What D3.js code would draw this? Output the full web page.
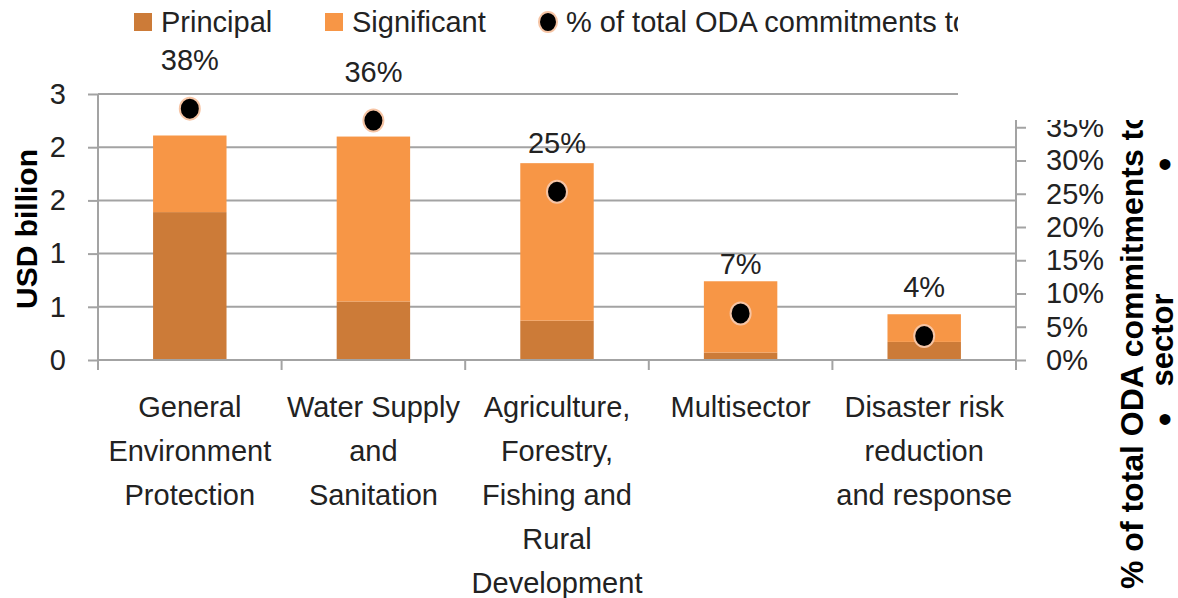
<!DOCTYPE html>
<html>
<head>
<meta charset="utf-8">
<script src="https://cdn.jsdelivr.net/npm/d3@7"></script>
<style>
  html, body { margin: 0; padding: 0; background: #fff; }
  svg { display: block; font-family: "Liberation Sans", Arial, sans-serif; }
</style>
</head>
<body>
<div id="chart"></div>
<script>
// categories, one entry per line of the wrapped axis label
const categories = [
  ['General', 'Environment', 'Protection'],
  ['Water Supply', 'and', 'Sanitation'],
  ['Agriculture,', 'Forestry,', 'Fishing and', 'Rural', 'Development'],
  ['Multisector'],
  ['Disaster risk', 'reduction', 'and response'],
];
const seriesNames = ['Principal', 'Significant'];
const principal = [1.39, 0.55, 0.37, 0.07, 0.17];
const significant = [0.72, 1.55, 1.48, 0.67, 0.26];
const odaShare = [0.378, 0.36, 0.253, 0.07, 0.036];
const shareName = '% of total ODA commitments to sector';
const leftTicks = [0, 0.5, 1, 1.5, 2, 2.5];
const leftTickLabels = ['0', '1', '1', '2', '2', '3'];
const rightTicks = [0, 0.05, 0.1, 0.15, 0.2, 0.25, 0.3, 0.35];
const leftTitle = 'USD billion';
const rightTitleLines = ['% of total ODA commitments to', 'sector'];

const W = 1178, H = 598;
const margin = { top: 94, right: 162, bottom: 238, left: 98 };
const colors = { Principal: '#cc7b38', Significant: '#f79646' };
const gridColor = '#a3a3a3';
const fontSize = 29;

const svg = d3.select('#chart').append('svg').attr('width', W).attr('height', H);

const x = d3.scaleBand()
  .domain(d3.range(categories.length))
  .range([margin.left, W - margin.right])
  .paddingInner(0.6)
  .paddingOuter(0.3);
const y = d3.scaleLinear().domain([0, 2.5]).range([H - margin.bottom, margin.top]);
const y2 = d3.scaleLinear().domain([0, 0.4]).range([H - margin.bottom, margin.top]);
const x0 = margin.left, x1 = W - margin.right, yBase = H - margin.bottom;

// gridlines
svg.append('g')
  .selectAll('line')
  .data(leftTicks.slice(1))
  .join('line')
  .attr('x1', x0).attr('x2', x1)
  .attr('y1', d => y(d)).attr('y2', d => y(d))
  .attr('stroke', gridColor).attr('stroke-width', 2);

// stacked bars
const rows = categories.map((c, i) => ({ i, Principal: principal[i], Significant: significant[i] }));
const stacked = d3.stack().keys(seriesNames)(rows);
svg.append('g')
  .selectAll('g')
  .data(stacked)
  .join('g')
  .attr('fill', d => colors[d.key])
  .selectAll('rect')
  .data(d => d)
  .join('rect')
  .attr('x', d => x(d.data.i))
  .attr('width', x.bandwidth())
  .attr('y', d => y(d[1]))
  .attr('height', d => y(d[0]) - y(d[1]));

// left axis
const leftAxis = svg.append('g')
  .attr('transform', `translate(${x0},0)`)
  .call(d3.axisLeft(y).tickValues(leftTicks).tickSize(10).tickPadding(22)
    .tickFormat((d, i) => leftTickLabels[i]));
leftAxis.select('.domain').attr('d', `M0,${y(2.5)}V${yBase + 10}`);

// right axis
const rightAxis = svg.append('g')
  .attr('transform', `translate(${x1},0)`)
  .call(d3.axisRight(y2).tickValues(rightTicks).tickSize(10).tickPadding(20)
    .tickFormat(d3.format('.0%')));
rightAxis.select('.domain').attr('d', `M0,${y2(0.4)}V${yBase + 10}`);

// bottom axis, ticks on the category boundaries
const step = x.step();
const bounds = d3.range(categories.length + 1).map(i => x0 + i * step);
const bottom = svg.append('g');
bottom.append('line')
  .attr('x1', x0).attr('x2', x1).attr('y1', yBase).attr('y2', yBase);
bottom.selectAll('line.tick')
  .data(bounds)
  .join('line')
  .attr('class', 'tick')
  .attr('x1', d => d).attr('x2', d => d)
  .attr('y1', yBase).attr('y2', yBase + 10);
bottom.selectAll('line').attr('stroke', gridColor).attr('stroke-width', 2);

[leftAxis, rightAxis].forEach(a => {
  a.selectAll('line, path').attr('stroke', gridColor).attr('stroke-width', 2);
  a.selectAll('text').attr('font-size', fontSize).attr('fill', '#222')
    .attr('font-family', '"Liberation Sans", Arial, sans-serif');
});

// category labels
svg.append('g')
  .selectAll('text')
  .data(categories)
  .join('text')
  .attr('text-anchor', 'middle')
  .attr('font-size', fontSize)
  .attr('fill', '#222')
  .attr('transform', (d, i) => `translate(${x(i) + x.bandwidth() / 2},${yBase + 57})`)
  .selectAll('tspan')
  .data(d => d)
  .join('tspan')
  .attr('x', 0)
  .attr('y', (d, j) => j * 44)
  .text(d => d);

// share markers
svg.append('g')
  .selectAll('ellipse')
  .data(odaShare)
  .join('ellipse')
  .attr('cx', (d, i) => x(i) + x.bandwidth() / 2)
  .attr('cy', d => y2(d))
  .attr('rx', 10).attr('ry', 11)
  .attr('fill', '#000')
  .attr('stroke', '#f6c4a4').attr('stroke-width', 2);

svg.append('g')
  .selectAll('text')
  .data(odaShare)
  .join('text')
  .attr('x', (d, i) => x(i) + x.bandwidth() / 2)
  .attr('y', d => y2(d) - 39)
  .attr('text-anchor', 'middle')
  .attr('font-size', fontSize)
  .attr('fill', '#222')
  .text(d => d3.format('.0%')(d));

// axis titles
svg.append('text')
  .attr('transform', `translate(37,${(margin.top + yBase) / 2 + 2}) rotate(-90)`)
  .attr('text-anchor', 'middle')
  .attr('font-size', 30).attr('font-weight', 'bold')
  .text(leftTitle);

svg.append('text')
  .attr('transform', `translate(1143,589) rotate(-90)`)
  .attr('font-size', 32).attr('font-weight', 'bold')
  .text(rightTitleLines[0]);
svg.append('text')
  .attr('transform', `translate(1173,340) rotate(-90)`)
  .attr('text-anchor', 'middle')
  .attr('font-size', 31).attr('font-weight', 'bold')
  .text(rightTitleLines[1]);

// stray bullets beside the title
svg.append('g')
  .selectAll('text')
  .data([165, 420])
  .join('text')
  .attr('x', 1165).attr('y', d => d + 13)
  .attr('text-anchor', 'middle')
  .attr('font-size', 40)
  .text('•');

// legend
const legend = svg.append('g').attr('font-size', fontSize).attr('fill', '#222');
const legendX = [134, 325];
seriesNames.forEach((s, i) => {
  legend.append('rect')
    .attr('x', legendX[i]).attr('y', 13).attr('width', 18).attr('height', 18)
    .attr('fill', colors[s]);
  legend.append('text')
    .attr('x', legendX[i] + 27).attr('y', 32)
    .text(s);
});
legend.append('ellipse')
  .attr('cx', 548).attr('cy', 22).attr('rx', 9).attr('ry', 10)
  .attr('fill', '#000').attr('stroke', '#f6c4a4').attr('stroke-width', 2);
legend.append('text')
  .attr('x', 566).attr('y', 32)
  .text(shareName);

// the picture is cut off at the top right
svg.append('rect')
  .attr('x', 958).attr('y', 0).attr('width', W - 958).attr('height', 120)
  .attr('fill', '#fff');
</script>
</body>
</html>
